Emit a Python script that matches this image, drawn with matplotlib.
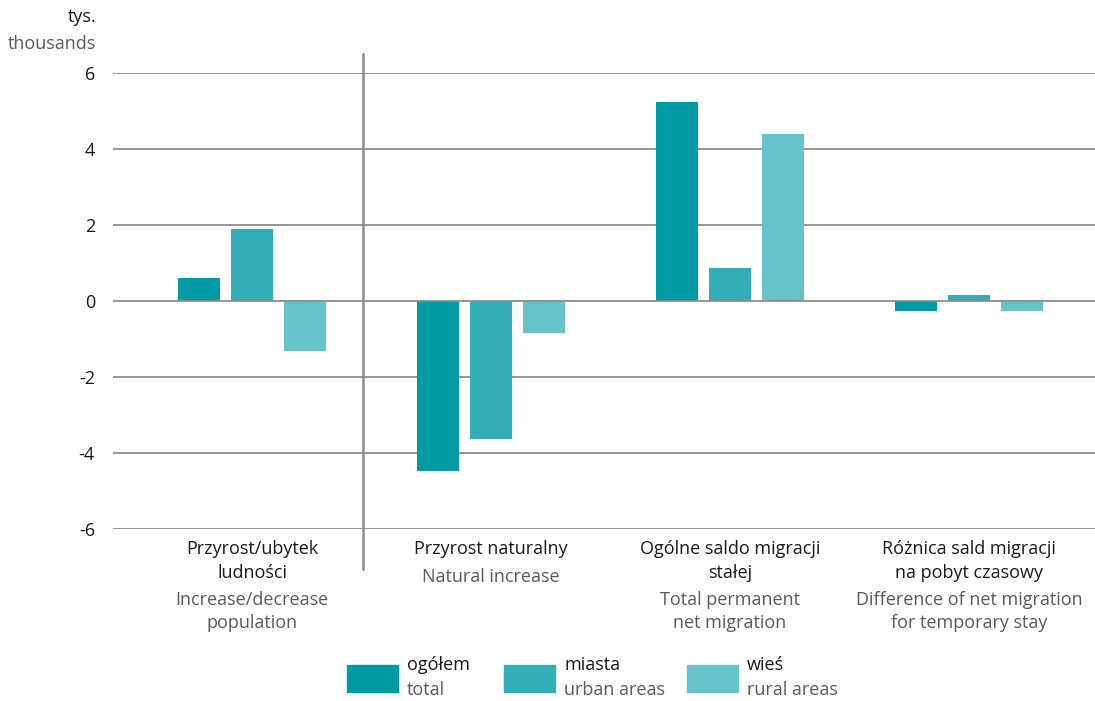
import numpy as np
import matplotlib
matplotlib.use("Agg")
import matplotlib.pyplot as plt
import matplotlib.patches as patches

# dane (tys.)
groups_pl = ["Przyrost/ubytek\nludności", "Przyrost naturalny",
             "Ogólne saldo migracji\nstałej", "Różnica sald migracji\nna pobyt czasowy"]
groups_en = ["Increase/decrease\npopulation", "Natural increase",
             "Total permanent\nnet migration", "Difference of net migration\nfor temporary stay"]
series_pl = ["ogółem", "miasta", "wieś"]
series_en = ["total", "urban areas", "rural areas"]
total = [0.61, -4.47, 5.24, -0.27]
urban = [1.89, -3.63, 0.87, 0.15]
rural = [-1.32, -0.84, 4.39, -0.27]
yticks = [-6, -4, -2, 0, 2, 4, 6]

colors = ["#009ba5", "#33adb7", "#66c3ca"]
dark = "#1a1a1a"
grey = "#5a5a5a"
fs = 13
plt.rcParams['font.family'] = ['Open Sans', 'DejaVu Sans']

W, H = 1095, 701
fig = plt.figure(figsize=(W / 100, H / 100), dpi=100)
ax = fig.add_axes([113 / W, 1 - 529 / H, (1095 - 113) / W, (529 - 73) / H])

x = np.arange(len(groups_pl))
width = 0.176
step = 0.222
for i, vals in enumerate([total, urban, rural]):
    ax.bar(x + (i - 1) * step, vals, width, color=colors[i], zorder=3)

ax.set_xlim(-0.5816, 3.527)
ax.set_ylim(-6, 6)
ax.set_yticks(yticks)
ax.set_yticklabels([str(t) for t in yticks], fontsize=fs, color=dark)
ax.tick_params(axis='y', length=0, pad=13)
ax.set_xticks([])
for t in yticks:
    ax.axhline(t, color="#8c8c8c", lw=1.3, zorder=1 if t != 0 else 4)
for s in ax.spines.values():
    s.set_visible(False)

# separator line
ax.plot([0.4644, 0.4644], [6.5, -7.05], color="#8c8c8c", lw=1.8, clip_on=False, zorder=4)

# axis unit
fig.text(96 / W, 1 - 17 / H, "tys.", ha='right', va='center', fontsize=fs, color=dark)
fig.text(96 / W, 1 - 44 / H, "thousands", ha='right', va='center', fontsize=fs, color=grey)

# category labels, line by line
lh = 23.5
for i in range(len(groups_pl)):
    xf = (113 + (x[i] + 0.5816) * 239) / W
    pl = groups_pl[i].split("\n")
    en = groups_en[i].split("\n")
    for k, line in enumerate(pl):
        fig.text(xf, 1 - (549 + k * lh) / H, line, ha='center', va='center',
                 fontsize=fs, color=dark)
    y0 = 549 + (len(pl) - 1) * lh + 27.5
    for k, line in enumerate(en):
        fig.text(xf, 1 - (y0 + k * lh) / H, line, ha='center', va='center',
                 fontsize=fs, color=grey)

# legend
box_x = [347, 504, 687]
for i in range(3):
    fig.patches.append(patches.Rectangle((box_x[i] / W, 1 - 692 / H), 51 / W, 27 / H,
                                         transform=fig.transFigure, color=colors[i]))
    fig.text((box_x[i] + 60) / W, 1 - 665 / H, series_pl[i], ha='left', va='center',
             fontsize=fs, color=dark)
    fig.text((box_x[i] + 60) / W, 1 - 690 / H, series_en[i], ha='left', va='center',
             fontsize=fs, color=grey)

fig.savefig("out.png", dpi=100)
